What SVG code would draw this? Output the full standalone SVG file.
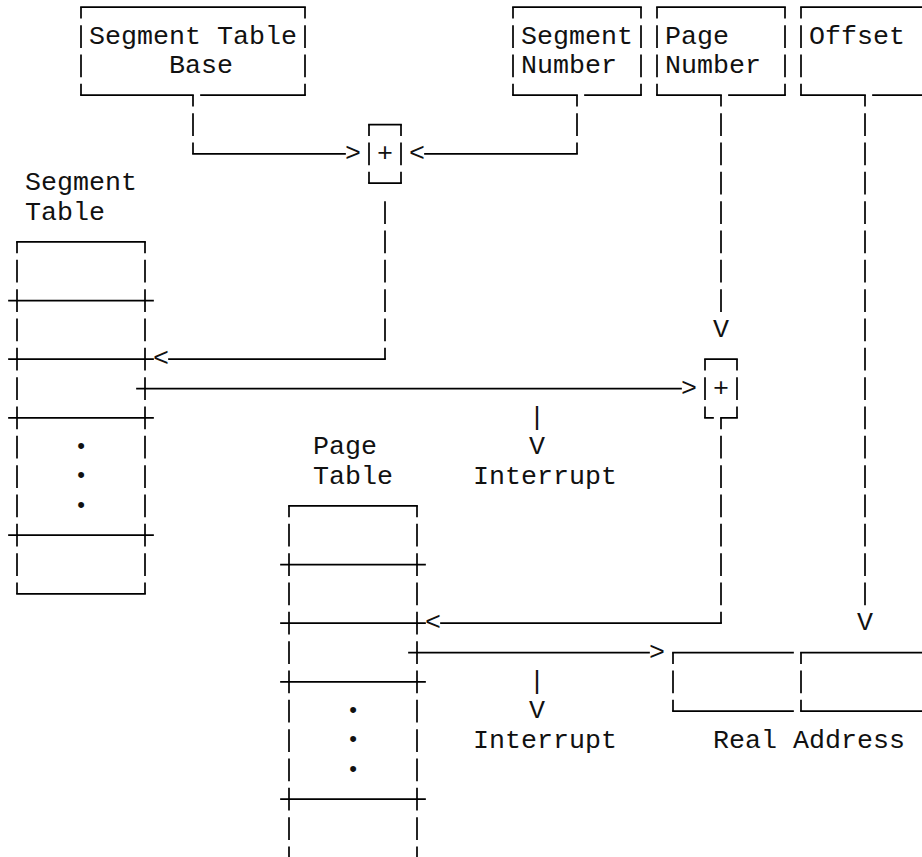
<svg xmlns="http://www.w3.org/2000/svg" width="922" height="857" viewBox="0 0 922 857">
  <style>
    .h { stroke: #000; stroke-width: 1.7; fill: none; stroke-linecap: square; }
    .v { stroke: #000; stroke-width: 1.7; fill: none; stroke-dasharray: 22.7 6.633; stroke-dashoffset: 11.35; }
    .vf { stroke: #000; stroke-width: 1.7; fill: none; stroke-dasharray: 22.7 6.633; }
    text { font-family: "Courier New", "Nimbus Mono PS", "Nimbus Mono L", "FreeMono", "Liberation Mono", monospace; font-size: 26.67px; fill: #111; white-space: pre; }
    .dot { font-size: 22px; }
  </style>
  <rect width="922" height="857" fill="#fff"/>

  <!-- Address fields -->
  <g id="segment-table-base">
    <path class="h" d="M81,7.2 H305 M81,95.2 H193 M201,95.2 H305"/>
    <line class="v" x1="81" y1="7.2" x2="81" y2="95.2"/>
    <line class="v" x1="305" y1="7.2" x2="305" y2="95.2"/>
    <text x="89" y="43.53">Segment Table</text>
    <text x="169" y="72.87">Base</text>
  </g>

  <g id="segment-number">
    <path class="h" d="M513,7.2 H641 M513,95.2 H577 M585,95.2 H641"/>
    <line class="v" x1="513" y1="7.2" x2="513" y2="95.2"/>
    <line class="v" x1="641" y1="7.2" x2="641" y2="95.2"/>
    <text x="521" y="43.53">Segment</text>
    <text x="521" y="72.87">Number</text>
  </g>

  <g id="page-number">
    <path class="h" d="M657,7.2 H785 M657,95.2 H721 M729,95.2 H785"/>
    <line class="v" x1="657" y1="7.2" x2="657" y2="95.2"/>
    <line class="v" x1="785" y1="7.2" x2="785" y2="95.2"/>
    <text x="665" y="43.53">Page</text>
    <text x="665" y="72.87">Number</text>
  </g>

  <g id="offset">
    <path class="h" d="M801,7.2 H923 M801,95.2 H865 M873,95.2 H923"/>
    <line class="v" x1="801" y1="7.2" x2="801" y2="95.2"/>
    <text x="809" y="43.53">Offset</text>
  </g>

  <!-- Adders -->
  <g id="adder-segment">
    <path class="h" d="M369,124.53 H401 M369,183.2 H401"/>
    <line class="v" x1="369" y1="124.53" x2="369" y2="183.2"/>
    <line class="v" x1="401" y1="124.53" x2="401" y2="183.2"/>
    <text x="377" y="160.87">+</text>
  </g>

  <g id="adder-page">
    <path class="h" d="M705,359.2 H737 M705,417.87 H713 M721,417.87 H737"/>
    <line class="v" x1="705" y1="359.2" x2="705" y2="417.87"/>
    <line class="v" x1="737" y1="359.2" x2="737" y2="417.87"/>
    <text x="713" y="395.53">+</text>
  </g>

  <!-- Segment table -->
  <g id="segment-table">
    <text x="25" y="190.2">Segment</text>
    <text x="25" y="219.53">Table</text>
    <path class="h" d="M17,241.87 H145 M9,300.53 H153 M9,359.2 H153 M9,417.87 H153 M9,535.2 H153 M17,593.87 H145"/>
    <line class="v" x1="17" y1="241.87" x2="17" y2="593.87"/>
    <line class="v" x1="145" y1="241.87" x2="145" y2="593.87"/>
    <text class="dot" x="74.4" y="452.8">•</text>
    <text class="dot" x="74.4" y="482.1">•</text>
    <text class="dot" x="74.4" y="511.5">•</text>
  </g>

  <!-- Page table -->
  <g id="page-table">
    <text x="313" y="454.2">Page</text>
    <text x="313" y="483.53">Table</text>
    <path class="h" d="M289,505.87 H417 M281,564.53 H425 M281,623.2 H425 M281,681.87 H425 M281,799.2 H425"/>
    <line class="v" x1="289" y1="505.87" x2="289" y2="870"/>
    <line class="v" x1="417" y1="505.87" x2="417" y2="870"/>
    <text class="dot" x="346.4" y="716.8">•</text>
    <text class="dot" x="346.4" y="746.1">•</text>
    <text class="dot" x="346.4" y="775.5">•</text>
  </g>

  <!-- Real address -->
  <g id="real-address">
    <path class="h" d="M673,652.53 H793 M801,652.53 H923 M673,711.2 H793 M801,711.2 H923"/>
    <line class="v" x1="673" y1="652.53" x2="673" y2="711.2"/>
    <line class="v" x1="801" y1="652.53" x2="801" y2="711.2"/>
    <text x="713" y="747.53">Real Address</text>
  </g>

  <!-- Interrupt outputs -->
  <g id="interrupt-segment">
    <text x="473" y="483.53">Interrupt</text>
  </g>
  <g id="interrupt-page">
    <text x="473" y="747.53">Interrupt</text>
  </g>

  <!-- Connectors -->
  <g id="connectors">
    <!-- segment table base into adder -->
    <line class="v" x1="193" y1="95.2" x2="193" y2="153.87"/>
    <path class="h" d="M193,153.87 H345"/>
    <text x="345" y="160.87">&gt;</text>
    <!-- segment number into adder -->
    <line class="v" x1="577" y1="95.2" x2="577" y2="153.87"/>
    <path class="h" d="M425,153.87 H577"/>
    <text x="409" y="160.87">&lt;</text>
    <!-- adder into segment table entry -->
    <line class="vf" x1="385" y1="201.18" x2="385" y2="359.2"/>
    <path class="h" d="M169,359.2 H385"/>
    <text x="153" y="366.2">&lt;</text>
    <!-- page number into page adder -->
    <line class="v" x1="721" y1="95.2" x2="721" y2="311.88"/>
    <text x="713" y="336.87">V</text>
    <!-- segment table entry into page adder -->
    <path class="h" d="M137,388.53 H681"/>
    <text x="681" y="395.53">&gt;</text>
    <!-- segment interrupt -->
    <text x="529" y="424.87">|</text>
    <text x="529" y="454.2">V</text>
    <!-- page adder into page table entry -->
    <line class="v" x1="721" y1="417.87" x2="721" y2="623.2"/>
    <path class="h" d="M441,623.2 H721"/>
    <text x="425" y="630.2">&lt;</text>
    <!-- offset into real address -->
    <line class="v" x1="865" y1="95.2" x2="865" y2="605.22"/>
    <text x="857" y="630.2">V</text>
    <!-- page table entry into real address -->
    <path class="h" d="M409,652.53 H649"/>
    <text x="649" y="659.53">&gt;</text>
    <!-- page interrupt -->
    <text x="529" y="688.87">|</text>
    <text x="529" y="718.2">V</text>
  </g>
</svg>
